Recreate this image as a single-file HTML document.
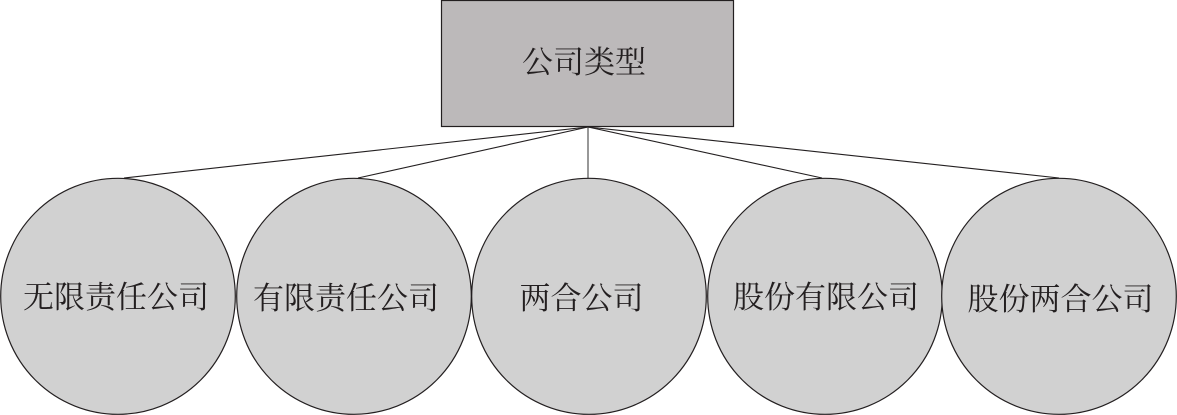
<!DOCTYPE html>
<html lang="zh">
<head>
<meta charset="utf-8">
<title>公司类型</title>
<style>
html,body{margin:0;padding:0;background:#fff;width:1177px;height:415px;overflow:hidden}
svg{display:block}
text{font-family:"Liberation Serif","Noto Serif CJK SC",serif;fill:#231f20;font-size:31px;text-anchor:middle}
</style>
</head>
<body>
<svg width="1177" height="415" viewBox="0 0 1177 415" xmlns="http://www.w3.org/2000/svg">
<rect x="441.5" y="0.5" width="292" height="126" fill="#bcb9ba" stroke="#231f20" stroke-width="1.2"/>
<g stroke="#231f20" stroke-width="1.1" fill="none">
<line x1="588" y1="127" x2="124" y2="178"/>
<line x1="588" y1="127" x2="358" y2="178"/>
<line x1="588" y1="127" x2="588" y2="178" stroke="#444"/>
<line x1="588" y1="127" x2="822" y2="178"/>
<line x1="588" y1="127" x2="1059" y2="178"/>
</g>
<g fill="#d1d1d1" stroke="#231f20" stroke-width="1.2">
<ellipse cx="118" cy="296.3" rx="117.3" ry="118"/>
<ellipse cx="354" cy="296.3" rx="117.3" ry="118"/>
<ellipse cx="589" cy="296.3" rx="117.3" ry="118"/>
<ellipse cx="825" cy="296.3" rx="117.3" ry="118"/>
<ellipse cx="1059" cy="296.3" rx="117.3" ry="118"/>
</g>
<text x="584" y="73">公司类型</text>
<text x="116" y="308">无限责任公司</text>
<text x="346" y="309">有限责任公司</text>
<text x="581.5" y="309">两合公司</text>
<text x="826" y="308">股份有限公司</text>
<text x="1060.5" y="310">股份两合公司</text>
</svg>
</body>
</html>
